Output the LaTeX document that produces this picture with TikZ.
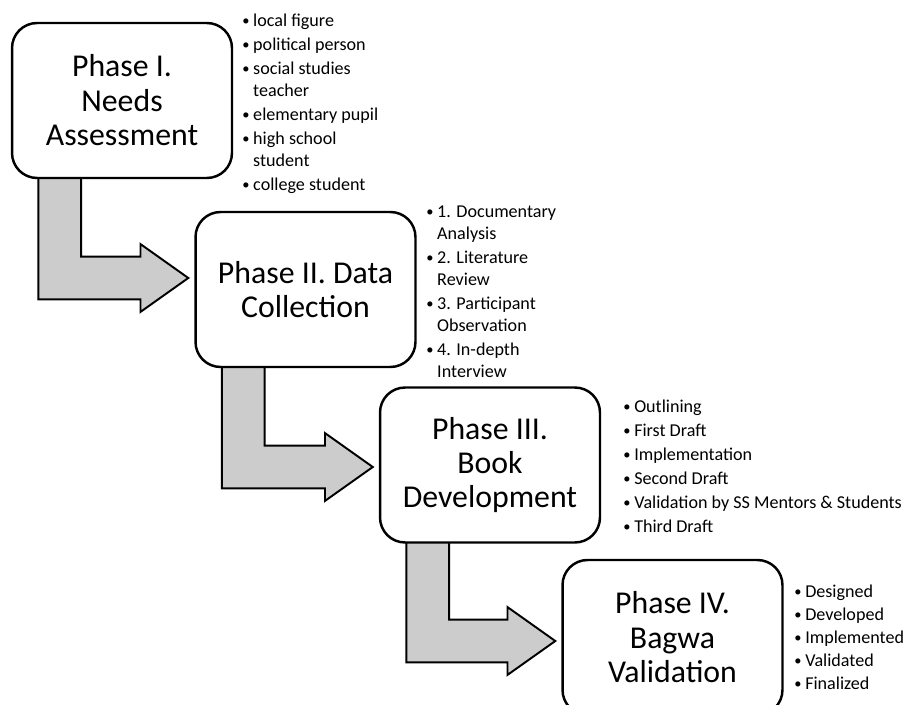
\documentclass[tikz,border=0pt]{standalone}
\usepackage{fontspec}
\setmainfont{Carlito}
\usepackage{graphicx}
\usepackage{tikz}
\usetikzlibrary{calc,backgrounds}

% bullet and hanging indent for the side notes
\newcommand{\itm}{\makebox[6.2pt][l]{\raisebox{0.12ex}{\scalebox{0.8}{\textbullet}}}}
\newcommand{\cnt}{\hspace*{6.2pt}}

% bent block arrow from the foot of one phase to the side of the next
\newcommand{\phasearrow}[3]{%
  \draw[flowarrow] let \p1=($(#1.south west)+(27.5,-3)$), \p2=($(#2.west)+(-6,#3)$) in
    (\x1,\y1) -- ({\x1},{\y2-12.2pt}) -- ({\x2-27.2pt},{\y2-12.2pt}) -- ({\x2-27.2pt},{\y2-19.3pt})
    -- (\x2,\y2) -- ({\x2-27.2pt},{\y2+19.3pt}) -- ({\x2-27.2pt},{\y2+12.2pt})
    -- ({\x1+24.4pt},{\y2+12.2pt}) -- ({\x1+24.4pt},{\y1}) -- cycle;}

\begin{document}
\begin{tikzpicture}[x=0.02cm,y=-0.02cm,
    phase/.style={draw,line width=1.4pt,rounded corners=0.5cm,fill=white,
      minimum width=4.4cm,minimum height=3.1cm,align=center,inner sep=2pt,
      font=\fontsize{18.1pt}{19.6pt}\selectfont},
    notes/.style={anchor=north west,align=left,inner sep=0pt,
      font=\fontsize{10.3pt}{12.5pt}\selectfont},
    flowarrow/.style={draw,line width=1.1pt,fill=gray!40,line join=miter}]
    \useasboundingbox (0,0) rectangle (910,713);
    \clip (0,0) rectangle (910,704);

    % the four phases
    \node[phase] (phaseI) at (122,100.5) {Phase I.\\Needs\\Assessment};
    \node[phase] (phaseII) at (305.5,289.5) {Phase II. Data\\Collection};
    \node[phase] (phaseIII) at (490,465) {Phase III.\\Book\\Development};
    \node[phase] (phaseIV) at (672.5,637.5) {Phase IV.\\Bagwa\\Validation};

    % notes beside each phase
    \node[notes] (needsNotes) at (242,14) {\itm local figure\\[1.1pt]
        \itm political person\\[1.1pt]
        \itm social studies\\ \cnt teacher\\[1.1pt]
        \itm elementary pupil\\[1.1pt]
        \itm high school\\ \cnt student\\[1.1pt]
        \itm college student};
    \node[notes] (dataNotes) at (426,206) {\itm 1. Documentary\\ \cnt Analysis\\[1.1pt]
        \itm 2. Literature\\ \cnt Review\\[1.1pt]
        \itm 3. Participant\\ \cnt Observation\\[1.1pt]
        \itm 4. In-depth\\ \cnt Interview};
    \node[notes] (bookNotes) at (623,400) {\itm Outlining\\[1.1pt]
        \itm First Draft\\[1.1pt]
        \itm Implementation\\[1.1pt]
        \itm Second Draft\\[1.1pt]
        \itm Validation by SS Mentors \& Students\\[1.1pt]
        \itm Third Draft};
    \node[notes] (bagwaNotes) at (794,585) {\itm Designed\\[0.5pt]
        \itm Developed\\[0.5pt]
        \itm Implemented\\[0.5pt]
        \itm Validated\\[0.5pt]
        \itm Finalized};

    % arrows go under the boxes
    \begin{scope}[on background layer]
        \phasearrow{phaseI}{phaseII}{-11.5}
        \phasearrow{phaseII}{phaseIII}{2}
        \phasearrow{phaseIII}{phaseIV}{3.5}
    \end{scope}
\end{tikzpicture}
\end{document}
